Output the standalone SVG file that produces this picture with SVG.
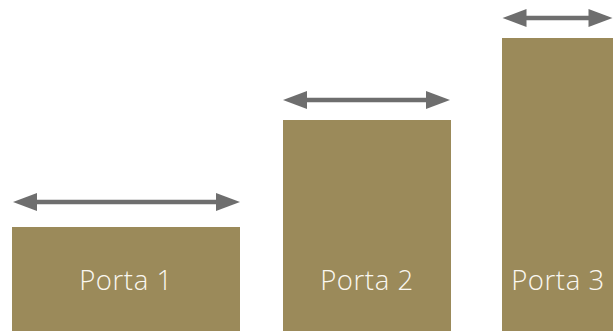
<svg xmlns="http://www.w3.org/2000/svg" width="613" height="331" viewBox="0 0 613 331">
<style>
.bar{fill:#9B8A5A}
.lbl{fill:#FAF7F0;font-family:"Open Sans","Liberation Sans",sans-serif;font-weight:300;font-size:27.5px;letter-spacing:0.6px;text-anchor:middle}
.conn line{stroke:#6E6E6E;stroke-width:4.5}
.conn path{fill:#6E6E6E}
</style>
<rect width="613" height="331" fill="#fff"/>
<g id="porta1">
<rect class="bar" x="12" y="227" width="228" height="104"/>
<text class="lbl" x="126" y="290">Porta 1</text>
</g>
<g id="porta2">
<rect class="bar" x="283" y="120" width="168" height="211"/>
<text class="lbl" x="367" y="290">Porta 2</text>
</g>
<g id="porta3">
<rect class="bar" x="502" y="38" width="112" height="293"/>
<text class="lbl" x="558" y="290">Porta 3</text>
</g>
<g class="conn" id="connectors">
<line x1="30" y1="202" x2="223" y2="202"/>
<path d="M13,202 L37,193 L37,211 Z"/>
<path d="M240,202 L216,193 L216,211 Z"/>
<line x1="300" y1="100" x2="433" y2="100"/>
<path d="M283,100 L307,91 L307,109 Z"/>
<path d="M450,100 L426,91 L426,109 Z"/>
<line x1="519" y1="18" x2="596" y2="18"/>
<path d="M502.5,18 L526.5,9 L526.5,27 Z"/>
<path d="M612.5,18 L588.5,9 L588.5,27 Z"/>
</g>
</svg>
